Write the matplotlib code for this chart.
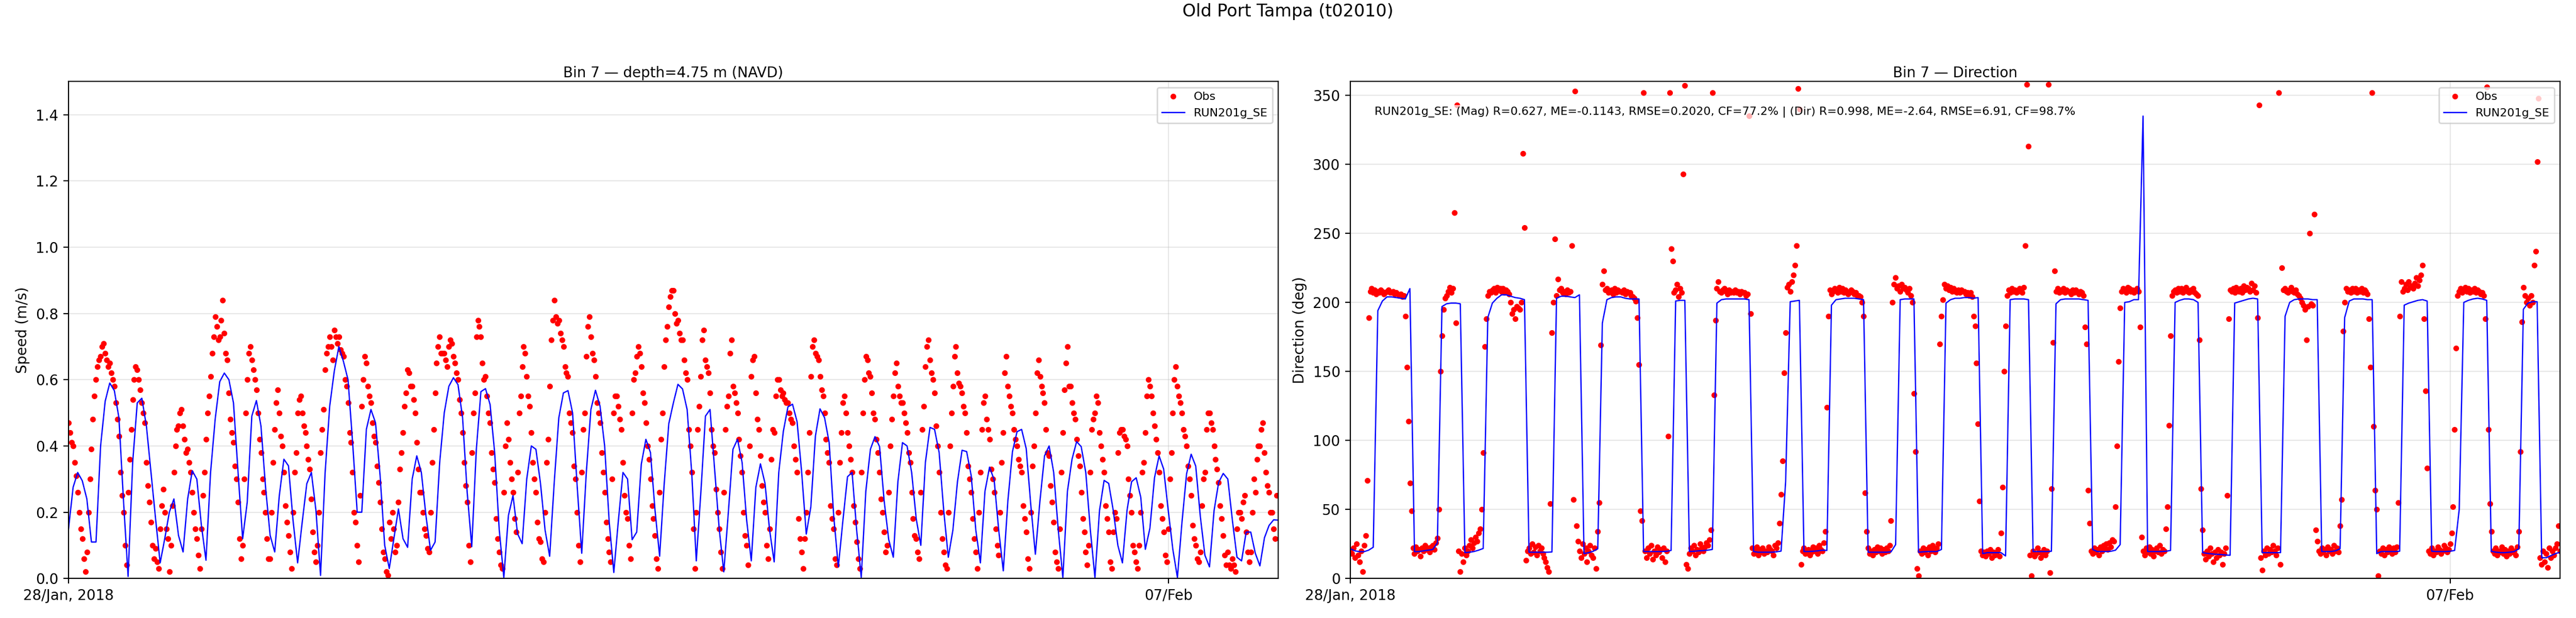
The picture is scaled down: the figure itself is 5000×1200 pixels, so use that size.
"""
Old Port Tampa (t02010) - observed vs modelled current speed and direction, bin 7.
"""

import matplotlib
matplotlib.use("Agg")
import matplotlib.pyplot as plt
import pandas as pd

STATION = "Old Port Tampa (t02010)"
START = "2018-01-28 00:00"
END = "2018-02-08 00:00"
MODEL_NAME = "RUN201g_SE"
STATS_TEXT = ("RUN201g_SE: (Mag) R=0.627, ME=-0.1143, RMSE=0.2020, CF=77.2% | "
              "(Dir) R=0.998, ME=-2.64, RMSE=6.91, CF=98.7%")
XTICK_DATES = ["2018-01-28", "2018-02-07"]
XTICK_LABELS = ["28/Jan, 2018", "07/Feb"]

# model, hourly from 28 Jan 00:00
model_speed = [
    0.15, 0.275, 0.32, 0.295, 0.24, 0.11, 0.11, 0.40, 0.535, 0.59,
    0.567, 0.485, 0.234, 0.006, 0.35, 0.53, 0.544, 0.46, 0.32, 0.18,
    0.047, 0.12, 0.20, 0.24, 0.13, 0.08, 0.24, 0.325, 0.30, 0.16,
    0.055, 0.32, 0.48, 0.594, 0.62, 0.60, 0.53, 0.32, 0.12, 0.23,
    0.49, 0.537, 0.46, 0.275, 0.13, 0.08, 0.25, 0.36, 0.34, 0.175,
    0.047, 0.17, 0.286, 0.32, 0.205, 0.009, 0.32, 0.52, 0.626, 0.70,
    0.655, 0.60, 0.41, 0.20, 0.20, 0.45, 0.51, 0.47, 0.31, 0.10,
    0.03, 0.12, 0.21, 0.12, 0.094, 0.30, 0.37, 0.32, 0.19, 0.085,
    0.11, 0.35, 0.50, 0.58, 0.606, 0.585, 0.485, 0.26, 0.096, 0.39,
    0.564, 0.573, 0.525, 0.38, 0.146, 0.003, 0.19, 0.25, 0.135, 0.105,
    0.30, 0.40, 0.39, 0.287, 0.146, 0.067, 0.29, 0.485, 0.56, 0.567,
    0.50, 0.28, 0.076, 0.32, 0.51, 0.568, 0.52, 0.40, 0.17, 0.018,
    0.175, 0.32, 0.30, 0.117, 0.14, 0.345, 0.42, 0.38, 0.205, 0.067,
    0.286, 0.467, 0.53, 0.586, 0.572, 0.51, 0.32, 0.053, 0.26, 0.49,
    0.51, 0.33, 0.15, 0.02, 0.20, 0.39, 0.42, 0.35, 0.175, 0.053,
    0.275, 0.346, 0.287, 0.146, 0.05, 0.32, 0.444, 0.518, 0.526, 0.473,
    0.32, 0.134, 0.216, 0.43, 0.512, 0.485, 0.41, 0.187, 0.035, 0.175,
    0.307, 0.32, 0.146, 0.003, 0.263, 0.39, 0.428, 0.398, 0.234, 0.117,
    0.064, 0.292, 0.41, 0.40, 0.32, 0.18, 0.10, 0.35, 0.456, 0.45,
    0.38, 0.205, 0.064, 0.146, 0.292, 0.387, 0.383, 0.31, 0.146, 0.047,
    0.263, 0.336, 0.298, 0.146, 0.023, 0.234, 0.383, 0.443, 0.45, 0.392,
    0.222, 0.073, 0.234, 0.37, 0.40, 0.32, 0.146, 0.003, 0.263, 0.36,
    0.413, 0.398, 0.32, 0.146, 0.003, 0.205, 0.296, 0.287, 0.205, 0.10,
    0.047, 0.205, 0.292, 0.304, 0.245, 0.088, 0.152, 0.304, 0.37, 0.33,
    0.205, 0.088, 0.003, 0.17, 0.316, 0.375, 0.339, 0.187, 0.07, 0.035,
    0.205, 0.29, 0.317, 0.30, 0.175, 0.064, 0.053, 0.14, 0.14, 0.076,
    0.038, 0.123, 0.16, 0.177, 0.176,
]

model_dir = [
    21.5, 20, 19.4, 19.4, 20.5, 22.6,
    194, 201, 204, 204, 203.5, 203, 202.5, 210,
    19.4, 19.5, 20, 20.5, 21, 25.7,
    197, 199, 199.5, 199.5, 199,
    18.7, 19, 19.5, 20.5, 21.7,
    189, 199.5, 203, 205.5, 205.5, 204.5, 203.5, 203, 202,
    19, 19, 19, 19, 19, 19.2,
    203, 204.5, 204.5, 204, 203.5, 205.5,
    18, 18.7, 19.7, 21.5,
    185, 202, 203.5, 204, 204, 203, 202.5, 202.5, 202.5,
    19.5, 19.5, 19.5, 19.5, 19.5, 19.7, 20.3,
    201, 201.5, 201.5,
    19.5, 19.7, 20, 20.2, 20.5, 21,
    199.5, 202, 202.5, 202.5, 202.5, 202.5, 202.5, 202,
    19.5, 19, 19, 19, 19, 19.3, 19.8,
    70, 200.5, 201, 201.5,
    19.5, 19.5, 19.7, 20, 20.5, 20.3,
    198, 202, 202.5, 203, 203, 203, 202.5, 202,
    19, 19, 19, 19, 19, 19.3, 24.5,
    202, 202.5, 202.5, 202.5,
    19, 19.3, 19.5, 19.5, 19.5, 21,
    199.5, 202, 203, 203, 203.5, 203.5, 203, 203.5,
    18, 18.7, 18.7, 18.7, 18.7, 16.3,
    202, 202.5, 202.5, 202.5, 202,
    19.5, 19.5, 19.5, 19.5, 19.7,
    199, 202, 202.5, 202.5, 202.5, 202.5, 202, 201.5,
    21, 19.5, 19.5, 19.5, 19.7, 20.5, 24.5,
    200, 200.5, 202, 202, 335,
    19.5, 19.5, 19.5, 19.5, 19.7, 20.3,
    200, 201.5, 202.5, 202.5, 202, 200,
    18.7, 18.2, 17.8, 17.5, 17.3, 17, 16.8,
    199.5, 200.5, 201.5, 202.5, 203, 202.5,
    18.7, 18.7, 18.7, 18.7, 18.7,
    190, 200, 202, 202.5, 202.5, 202.5, 202, 202,
    19.5, 19.5, 19.5, 20, 21.5,
    189, 201, 202.5, 202.5, 202.5, 202, 202,
    18, 19.5, 19.5, 19.5, 19.5, 19.7,
    198, 199.5, 200.5, 201.5, 202, 201,
    19.7, 19.5, 19.5, 19.5, 19.7, 20.3,
    50, 200, 201.5, 202.5, 203, 202.5, 201.5,
    19.7, 19, 18.7, 18.7, 19, 19.5, 21.5,
    195, 199.5, 200.5, 200.5,
    15, 15, 16.5, 18, 19,
]

# observations, every 20 min from 28 Jan 00:00
obs_speed = [
    0.47, 0.44, 0.41, 0.40, 0.35, 0.31, 0.26, 0.20, 0.15, 0.12, 0.06, 0.02,
    0.08, 0.20, 0.30, 0.39, 0.48, 0.55, 0.60, 0.64, 0.66, 0.67, 0.70, 0.71,
    0.68, 0.66, 0.64, 0.65, 0.62, 0.60,
    0.58, 0.53, 0.48, 0.43, 0.32, 0.25, 0.20, 0.10, 0.04, 0.26, 0.36, 0.45,
    0.54, 0.60, 0.64, 0.63, 0.60, 0.57, 0.53, 0.50, 0.47, 0.35, 0.28, 0.23,
    0.17, 0.10, 0.06, 0.09, 0.05, 0.03,
    0.15, 0.22, 0.27, 0.20, 0.15, 0.12, 0.02, 0.10, 0.22, 0.32, 0.40, 0.45,
    0.46, 0.50, 0.51, 0.46, 0.42, 0.38, 0.39, 0.35, 0.32, 0.26, 0.20, 0.15,
    0.12, 0.07, 0.03, 0.15, 0.25, 0.32,
    0.42, 0.50, 0.55, 0.61, 0.68, 0.73, 0.79, 0.76, 0.72, 0.73, 0.78, 0.84,
    0.74, 0.68, 0.66, 0.56, 0.48, 0.44, 0.41, 0.34, 0.30, 0.23, 0.12, 0.06,
    0.10, 0.30, 0.50, 0.60, 0.68, 0.70,
    0.66, 0.63, 0.60, 0.57, 0.50, 0.42, 0.38, 0.30, 0.26, 0.20, 0.12, 0.06,
    0.06, 0.20, 0.35, 0.45, 0.53, 0.57, 0.50, 0.43, 0.40, 0.32, 0.22, 0.17,
    0.13, 0.08, 0.03, 0.20, 0.32, 0.38,
    0.50, 0.54, 0.55, 0.50, 0.46, 0.44, 0.40, 0.36, 0.33, 0.24, 0.14, 0.08,
    0.05, 0.10, 0.20, 0.38, 0.45, 0.51, 0.63, 0.68, 0.70, 0.73, 0.70, 0.66,
    0.75, 0.73, 0.71, 0.73, 0.69, 0.68,
    0.67, 0.60, 0.58, 0.53, 0.44, 0.41, 0.32, 0.20, 0.17, 0.10, 0.05, 0.25,
    0.52, 0.60, 0.67, 0.65, 0.58, 0.55, 0.53, 0.47, 0.43, 0.41, 0.34, 0.29,
    0.23, 0.15, 0.08, 0.06, 0.02, 0.01,
    0.17, 0.12, 0.20, 0.15, 0.08, 0.10, 0.23, 0.33, 0.38, 0.44, 0.52, 0.56,
    0.63, 0.62, 0.58, 0.58, 0.54, 0.50, 0.41, 0.33, 0.26, 0.26, 0.20, 0.15,
    0.13, 0.09, 0.08, 0.20, 0.35, 0.45,
    0.56, 0.65, 0.70, 0.73, 0.68, 0.68, 0.68, 0.66, 0.64, 0.70, 0.72, 0.71,
    0.67, 0.65, 0.62, 0.60, 0.54, 0.50, 0.44, 0.35, 0.28, 0.23, 0.10, 0.05,
    0.38, 0.50, 0.56, 0.73, 0.78, 0.76,
    0.73, 0.65, 0.60, 0.61, 0.55, 0.50, 0.47, 0.38, 0.33, 0.29, 0.18, 0.12,
    0.08, 0.04, 0.03, 0.26, 0.40, 0.47, 0.42, 0.35, 0.30, 0.26, 0.18, 0.14,
    0.32, 0.50, 0.55, 0.64, 0.70, 0.68,
    0.61, 0.55, 0.52, 0.44, 0.35, 0.30, 0.26, 0.17, 0.12, 0.11, 0.06, 0.05,
    0.20, 0.35, 0.42, 0.58, 0.72, 0.78, 0.84, 0.79, 0.77, 0.78, 0.74, 0.72,
    0.70, 0.64, 0.62, 0.61, 0.50, 0.47,
    0.44, 0.34, 0.30, 0.20, 0.10, 0.05, 0.32, 0.45, 0.50, 0.67, 0.76, 0.79,
    0.73, 0.68, 0.66, 0.61, 0.53, 0.50, 0.47, 0.38, 0.32, 0.26, 0.17, 0.12,
    0.08, 0.05, 0.30, 0.50, 0.55, 0.55,
    0.52, 0.48, 0.45, 0.35, 0.25, 0.20, 0.18, 0.10, 0.06, 0.50, 0.60, 0.62,
    0.67, 0.70, 0.68, 0.64, 0.56, 0.53, 0.47, 0.40, 0.36, 0.30, 0.22, 0.18,
    0.13, 0.06, 0.03, 0.26, 0.42, 0.50,
    0.64, 0.72, 0.76, 0.82, 0.85, 0.87, 0.87, 0.80, 0.77, 0.78, 0.74, 0.72,
    0.72, 0.66, 0.62, 0.60, 0.45, 0.40, 0.32, 0.15, 0.03, 0.20, 0.45, 0.52,
    0.61, 0.72, 0.75, 0.66, 0.64, 0.62,
    0.56, 0.45, 0.40, 0.38, 0.27, 0.20, 0.15, 0.08, 0.03, 0.26, 0.45, 0.52,
    0.55, 0.68, 0.72, 0.58, 0.56, 0.53, 0.50, 0.42, 0.37, 0.32, 0.20, 0.13,
    0.10, 0.04, 0.40, 0.61, 0.66, 0.67,
    0.56, 0.48, 0.45, 0.37, 0.28, 0.23, 0.20, 0.10, 0.06, 0.15, 0.36, 0.45,
    0.44, 0.55, 0.60, 0.60, 0.57, 0.55, 0.56, 0.54, 0.53, 0.53, 0.50, 0.48,
    0.47, 0.40, 0.36, 0.32, 0.18, 0.12,
    0.08, 0.03, 0.12, 0.20, 0.32, 0.44, 0.61, 0.70, 0.72, 0.68, 0.67, 0.66,
    0.61, 0.57, 0.55, 0.50, 0.42, 0.38, 0.35, 0.22, 0.18, 0.15, 0.06, 0.04,
    0.20, 0.35, 0.44, 0.53, 0.55, 0.50,
    0.44, 0.40, 0.36, 0.32, 0.22, 0.17, 0.11, 0.06, 0.03, 0.32, 0.50, 0.60,
    0.67, 0.66, 0.62, 0.61, 0.56, 0.50, 0.48, 0.42, 0.38, 0.32, 0.24, 0.20,
    0.14, 0.08, 0.10, 0.26, 0.40, 0.48,
    0.55, 0.62, 0.65, 0.58, 0.55, 0.53, 0.53, 0.50, 0.47, 0.44, 0.38, 0.35,
    0.26, 0.18, 0.13, 0.12, 0.08, 0.06, 0.26, 0.45, 0.52, 0.64, 0.70, 0.72,
    0.66, 0.62, 0.60, 0.56, 0.46, 0.40,
    0.32, 0.20, 0.12, 0.08, 0.04, 0.03, 0.20, 0.40, 0.50, 0.58, 0.67, 0.70,
    0.62, 0.59, 0.58, 0.56, 0.52, 0.50, 0.44, 0.34, 0.30, 0.26, 0.18, 0.12,
    0.08, 0.03, 0.20, 0.32, 0.45, 0.53,
    0.55, 0.48, 0.45, 0.42, 0.33, 0.30, 0.26, 0.15, 0.10, 0.07, 0.20, 0.35,
    0.44, 0.62, 0.67, 0.58, 0.55, 0.52, 0.50, 0.45, 0.42, 0.40, 0.36, 0.34,
    0.32, 0.22, 0.18, 0.14, 0.06, 0.03,
    0.20, 0.34, 0.40, 0.50, 0.62, 0.66, 0.61, 0.58, 0.56, 0.53, 0.45, 0.38,
    0.37, 0.28, 0.23, 0.17, 0.08, 0.05, 0.03, 0.15, 0.32, 0.44, 0.57, 0.65,
    0.70, 0.58, 0.58, 0.53, 0.50, 0.48,
    0.42, 0.37, 0.34, 0.26, 0.18, 0.14, 0.08, 0.04, 0.10, 0.32, 0.45, 0.48,
    0.50, 0.55, 0.53, 0.44, 0.40, 0.36, 0.32, 0.22, 0.18, 0.14, 0.05, 0.03,
    0.14, 0.20, 0.18, 0.38, 0.44, 0.45,
    0.45, 0.43, 0.42, 0.40, 0.30, 0.25, 0.20, 0.10, 0.08, 0.05, 0.03, 0.10,
    0.20, 0.32, 0.35, 0.44, 0.55, 0.60, 0.58, 0.55, 0.50, 0.46, 0.42, 0.38,
    0.32, 0.22, 0.18, 0.14, 0.07, 0.05,
    0.15, 0.30, 0.38, 0.50, 0.60, 0.64, 0.58, 0.55, 0.53, 0.50, 0.45, 0.43,
    0.40, 0.34, 0.30, 0.25, 0.16, 0.12, 0.10, 0.06, 0.05, 0.08, 0.22, 0.30,
    0.32, 0.45, 0.50, 0.50, 0.47, 0.45,
    0.40, 0.36, 0.33, 0.29, 0.22, 0.18, 0.13, 0.07, 0.04, 0.08, 0.04, 0.03,
    0.06, 0.04, 0.02, 0.15, 0.20, 0.20, 0.18, 0.23, 0.25, 0.14, 0.08, 0.05,
    0.08, 0.20, 0.30, 0.26, 0.36, 0.40,
    0.40, 0.45, 0.47, 0.38, 0.32, 0.28, 0.26, 0.20, 0.20, 0.15, 0.12, 0.25,
    0.25,
]

obs_dir = [
    20, 18, 22, 15, 25, 17, 12, 20, 5, 24, 31, 71,
    189, 208, 210, 207, 209, 206, 208, 207, 209, 208, 206, 207,
    208, 209, 207, 207, 208, 206, 207, 206, 205, 206, 204, 205,
    190, 153, 114, 69, 49, 22, 18, 23, 20, 21, 16, 22,
    20, 24, 21, 22, 19, 23, 24, 21, 26, 29, 50, 150,
    176, 195, 203, 205, 208, 211, 207, 210, 265, 185, 343, 20,
    5, 18, 12, 22, 17, 20, 24, 28, 22, 26, 30, 27,
    33, 36, 50, 91, 168, 188, 205, 208, 207, 209, 210, 207,
    211, 209, 210, 208, 210, 207, 209, 208, 206, 200, 192, 195,
    188, 197, 196, 195, 200, 308, 254, 13, 20, 22, 18, 25,
    19, 23, 17, 24, 20, 22, 18, 15, 12, 8, 5, 54,
    178, 200, 246, 205, 217, 209, 210, 207, 208, 206, 209, 207,
    208, 241, 57, 353, 38, 27, 20, 15, 25, 18, 22, 12,
    20, 24, 17, 15, 22, 7, 34, 55, 169, 213, 223, 209,
    210, 207, 208, 209, 206, 210, 207, 209, 208, 208, 207, 209,
    206, 208, 207, 207, 205, 204, 203, 201, 189, 155, 49, 42,
    352, 20, 15, 22, 18, 24, 14, 20, 17, 23, 19, 21,
    15, 22, 12, 20, 103, 352, 239, 230, 207, 209, 213, 204,
    210, 207, 293, 357, 10, 7, 18, 22, 20, 24, 17, 21,
    19, 25, 22, 20, 23, 26, 24, 28, 35, 352, 133, 187,
    210, 215, 208, 207, 209, 210, 208, 206, 209, 207, 208, 207,
    209, 207, 208, 206, 208, 207, 207, 205, 206, 335, 192, 22,
    18, 20, 23, 17, 21, 19, 22, 18, 20, 19, 23, 21,
    20, 17, 24, 22, 26, 40, 61, 85, 149, 178, 211, 213,
    208, 215, 220, 227, 241, 355, 340, 10, 20, 22, 18, 20,
    21, 17, 19, 23, 20, 22, 18, 24, 21, 20, 26, 34,
    124, 190, 209, 206, 208, 210, 209, 207, 211, 208, 210, 207,
    209, 208, 206, 207, 209, 208, 206, 207, 205, 205, 204, 200,
    190, 62, 34, 22, 18, 20, 17, 21, 19, 23, 20, 22,
    18, 21, 19, 22, 20, 24, 42, 200, 213, 218, 210, 212,
    208, 213, 210, 211, 209, 207, 210, 205, 200, 134, 92, 7,
    2, 20, 18, 22, 19, 21, 17, 23, 20, 24, 21, 19,
    22, 25, 170, 190, 202, 213, 210, 212, 209, 211, 208, 210,
    208, 207, 209, 207, 209, 208, 208, 206, 207, 205, 207, 204,
    190, 183, 156, 112, 56, 20, 17, 19, 16, 20, 18, 21,
    15, 19, 17, 18, 21, 16, 33, 66, 150, 183, 205, 209,
    207, 210, 208, 209, 207, 208, 210, 209, 207, 211, 241, 358,
    313, 17, 2, 20, 16, 18, 22, 19, 15, 18, 21, 17,
    20, 358, 4, 65, 171, 223, 208, 210, 207, 209, 208, 210,
    207, 209, 208, 208, 206, 209, 207, 209, 208, 206, 208, 207,
    205, 182, 170, 64, 40, 20, 18, 22, 19, 21, 17, 23,
    20, 24, 22, 25, 21, 26, 23, 28, 27, 52, 96, 157,
    196, 208, 210, 209, 207, 211, 210, 208, 209, 207, 209, 210,
    208, 182, 30, 20, 17, 22, 19, 23, 18, 21, 16, 20,
    22, 19, 24, 18, 21, 20, 36, 52, 111, 176, 205, 208,
    209, 207, 210, 208, 210, 207, 209, 211, 208, 207, 209, 208,
    210, 207, 206, 205, 173, 65, 35, 18, 14, 20, 16, 22,
    18, 12, 19, 15, 21, 17, 19, 10, 18, 22, 60, 188,
    209, 208, 210, 207, 211, 209, 208, 210, 207, 212, 209, 211,
    210, 208, 214, 209, 212, 207, 189, 343, 15, 6, 20, 17,
    22, 18, 21, 19, 24, 20, 17, 22, 352, 10, 225, 209,
    210, 208, 207, 209, 211, 208, 207, 209, 206, 205, 203, 200,
    198, 195, 173, 197, 250, 199, 198, 264, 35, 27, 20, 18,
    22, 19, 21, 17, 23, 20, 21, 18, 24, 20, 22, 19,
    38, 57, 179, 200, 210, 208, 209, 207, 210, 208, 210, 207,
    209, 208, 210, 207, 209, 208, 206, 188, 153, 352, 110, 64,
    50, 2, 20, 18, 22, 17, 21, 19, 23, 20, 18, 22,
    19, 23, 55, 190, 215, 208, 210, 213, 209, 215, 211, 212,
    210, 214, 218, 212, 216, 220, 227, 188, 136, 80, 20, 18,
    22, 17, 20, 19, 23, 21, 18, 20, 24, 22, 19, 21,
    25, 33, 52, 108, 167, 205, 208, 210, 207, 209, 211, 208,
    210, 207, 209, 208, 210, 207, 209, 208, 206, 207, 205, 188,
    356, 108, 54, 34, 20, 18, 22, 17, 20, 19, 23, 18,
    21, 16, 20, 18, 22, 19, 20, 17, 23, 34, 92, 186,
    211, 205, 200, 203, 198, 205, 200, 227, 237, 302, 348, 15,
    10, 20, 12, 18, 8, 22, 15, 20, 17, 22, 25, 38,
    20,
]


def main():
    model_t = pd.date_range(START, periods=len(model_speed), freq="h")
    obs_t = pd.date_range(START, periods=len(obs_speed), freq="20min")
    obs_dir_t = pd.date_range(START, periods=len(obs_dir), freq="20min")
    xticks = pd.to_datetime(XTICK_DATES)

    fig, (ax1, ax2) = plt.subplots(1, 2, figsize=(25, 6), dpi=200)
    fig.subplots_adjust(left=0.0266, right=0.9938, bottom=0.064, top=0.868,
                        wspace=0.0596)
    fig.suptitle(STATION, fontsize=12, y=0.995, va="top")

    # speed
    ax1.plot(obs_t, obs_speed, "r.", label="Obs")
    ax1.plot(model_t, model_speed, "b-", lw=0.9, label=MODEL_NAME)
    ax1.set_ylim(0, 1.5)
    ax1.set_ylabel("Speed (m/s)")
    ax1.set_title("Bin 7 \u2014 depth=4.75 m (NAVD)", fontsize=10, pad=3)

    # direction
    ax2.plot(obs_dir_t, obs_dir, "r.", label="Obs")
    ax2.plot(model_t, model_dir, "b-", lw=0.9, label=MODEL_NAME)
    ax2.set_ylim(0, 360)
    ax2.set_ylabel("Direction (deg)")
    ax2.set_title("Bin 7 \u2014 Direction", fontsize=10, pad=3)
    ax2.text(0.02, 0.95, STATS_TEXT, transform=ax2.transAxes, fontsize=8,
             va="top", ha="left",
             bbox=dict(facecolor="white", edgecolor="none", alpha=0.7, pad=1))

    for ax in (ax1, ax2):
        ax.set_xlim(pd.Timestamp(START), pd.Timestamp(END))
        ax.set_xticks(xticks)
        ax.set_xticklabels(XTICK_LABELS)
        ax.grid(True, alpha=0.3)
        ax.legend(loc="upper right", fontsize=8)

    fig.savefig("out.png", dpi=200)
    plt.close(fig)


if __name__ == "__main__":
    main()
